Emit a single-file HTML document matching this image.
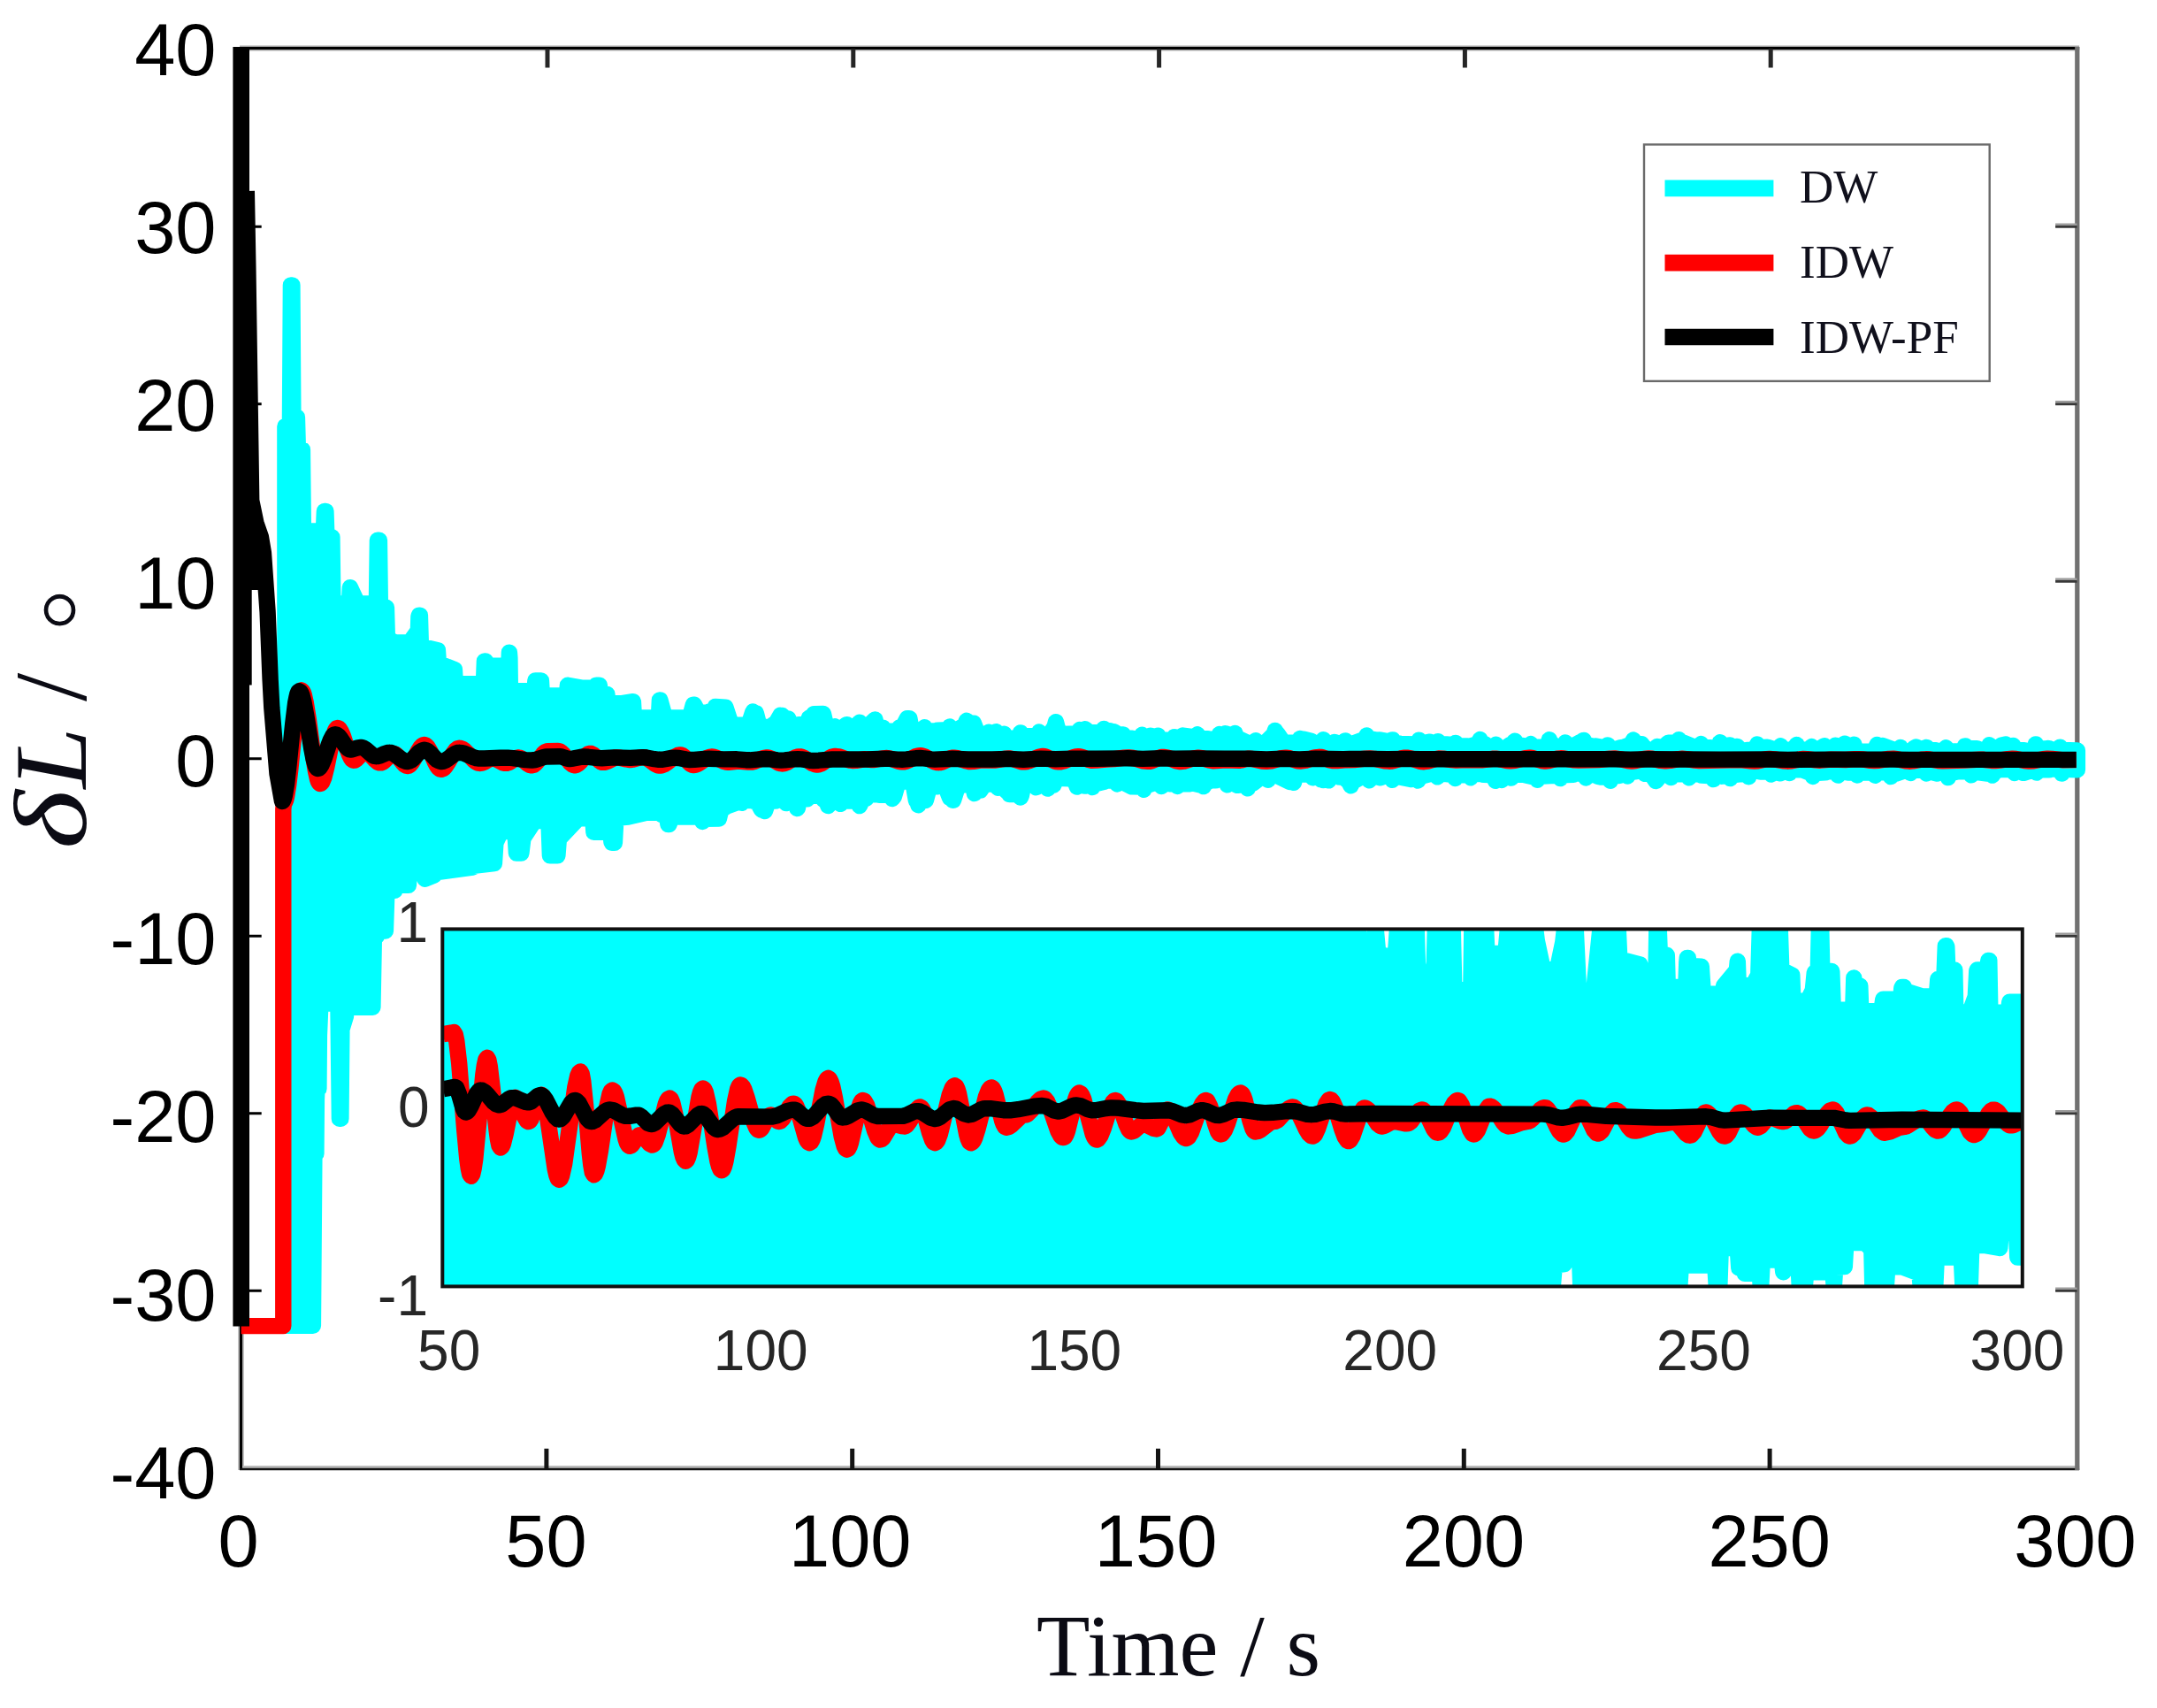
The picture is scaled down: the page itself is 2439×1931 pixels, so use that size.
<!DOCTYPE html>
<html lang="en"><head><meta charset="utf-8"><title>Latitude error comparison</title>
<style>html,body{margin:0;padding:0;background:#fff;overflow:hidden}svg{display:block}.tk{font-family:"Liberation Sans",Arial,sans-serif;font-size:83px;fill:#000}.ti{font-family:"Liberation Sans",Arial,sans-serif;font-size:64px;fill:#262626}.sf{font-family:"Liberation Serif","Times New Roman",serif}</style></head><body>
<svg width="2439" height="1931" viewBox="0 0 2439 1931">
<rect width="2439" height="1931" fill="#fff"/>
<defs><clipPath id="ci"><rect x="500.3" y="1050.4" width="1786.5" height="404"/></clipPath></defs>
<g fill="none">
<path d="M272.5 53V1662" stroke="#a8a8a8" stroke-width="6.4"/>
<path d="M271 54.5H2351.1" stroke="#a8a8a8" stroke-width="6.2"/>
<path d="M271 1658.5H2351.1" stroke="#bbb" stroke-width="3"/>
<path d="M272.5 53V1662" stroke="#000" stroke-width="3"/>
<path d="M271 54.5H2351.1" stroke="#000" stroke-width="3"/>
<path d="M271 1661H2351.1" stroke="#111" stroke-width="2.3"/>
<path d="M2348.8 53V1662.1" stroke="#717171" stroke-width="5.3"/>
<path d="M617.9 1660.6V1637.8M963.7 1660.6V1637.8M1309.5 1660.6V1637.8M1655.3 1660.6V1637.8M2001.1 1660.6V1637.8" stroke="#141414" stroke-width="5"/>
<path d="M619 55V76.5M964.8 55V76.5M1310.6 55V76.5M1656.4 55V76.5M2002.2 55V76.5" stroke="#262626" stroke-width="5"/>
<path d="M272.7 1459.3H295.7M272.7 1258.8H295.7M272.7 1058.3H295.7M272.7 857.8H295.7M272.7 657.3H295.7M272.7 456.8H295.7M272.7 256.3H295.7" stroke="#000" stroke-width="2.9"/>
<path d="M2348.5 1456.8H2324.1M2348.5 1256.3H2324.1M2348.5 1055.8H2324.1M2348.5 855.3H2324.1M2348.5 654.8H2324.1M2348.5 454.3H2324.1M2348.5 253.8H2324.1" stroke="#9c9c9c" stroke-width="2.8"/>
<path d="M2348.5 1459.4H2324.1M2348.5 1258.9H2324.1M2348.5 1058.4H2324.1M2348.5 857.9H2324.1M2348.5 657.4H2324.1M2348.5 456.9H2324.1M2348.5 256.4H2324.1" stroke="#383838" stroke-width="2.6"/>
</g>
<g fill="none" stroke-linejoin="round" stroke-linecap="butt" stroke-width="18.4">
<polygon points="322.4,481.9 327.9,481.9 328.9,322.4 330.4,322.4 331.4,471.7 335.9,471.7 336.9,508.3 341.9,508.3 342.9,600.5 365.9,600.5 366.9,577.9 368.4,577.9 369.4,607.2 375.4,607.2 376.4,682.4 394.9,682.4 395.9,664.1 404.4,682.4 425.9,682.4 426.9,610.7 428.9,610.7 429.9,686.8 436.9,686.8 437.9,722 446.9,726.4 463.4,726.1 472.4,713.8 472.9,712.3 473.4,697.3 473.9,695.6 474.9,695.6 475.9,730.8 494.9,735.1 495.9,749.9 513.9,757.1 514.9,773.2 546.9,773.2 547.9,747.4 548.9,747.4 549.9,752.7 574.9,752.7 575.4,750.9 575.9,737.6 576.4,744 576.9,781.1 604.4,781.1 605.4,769.4 611.9,769.4 612.9,786.4 640.9,786.4 641.9,774.7 657.4,777.6 673.4,777.6 674.4,774.7 677.4,774.7 677.9,774.8 678.4,783.6 678.9,784.9 686.4,784.9 687.4,795.1 703.4,795.1 715.9,793.2 716.9,811.5 744.9,811.5 745.9,791.4 746.4,791.4 751.9,811.5 779.9,811.5 783.9,796.6 784.9,796.7 789.4,805.1 790.9,805.7 800.4,805.8 801.9,804.5 803.9,805.9 805.9,805.9 808.9,799 820.4,799.7 826.9,819.4 828.4,817.8 830.4,819.4 846.4,819.9 851.4,804.5 852.4,806.4 854.9,806.5 858.9,822.1 872.4,821.8 874.4,819.1 874.9,820.1 875.9,820 882.4,808.8 884.4,809 889.9,814.5 891.4,812.4 892.9,817.4 895.4,820 902.9,820.1 903.4,819.2 911.4,819.2 913.4,816.5 914.9,811.6 916.4,812.4 920.4,807.1 930.9,806.9 934.9,824.1 942.4,824.1 943.9,821.3 945.9,824.1 950.9,824.1 957.4,819.2 957.9,819.2 958.4,821.1 970.4,821.1 971.9,816.7 973.4,820.5 974.4,821 983.9,818.6 989.4,813.4 992.9,826.4 996.9,826.4 998.4,822.8 1000.4,826.4 1015.4,826.9 1016.9,822.6 1018.4,826.6 1025.9,812.1 1027.9,812.1 1028.4,812.3 1030.9,826.1 1031.4,826.4 1043.9,826.4 1045.4,822.2 1047.4,826.4 1059.4,826.4 1059.9,825.6 1071.9,825.1 1073.9,821.5 1075.4,825.1 1082.4,825.1 1091.4,819.6 1092.9,814.8 1094.4,817.9 1100.9,817.6 1105.9,830.6 1116.4,830.6 1117.9,827.7 1119.9,830.6 1121.9,830.6 1126.4,827.2 1126.9,828.3 1127.4,828.1 1133.9,833.4 1135.4,829.7 1136.9,834.6 1151.4,834.7 1152.4,834.2 1153.9,828.4 1155.4,832.7 1156.4,832.3 1173.4,832.1 1174.9,827.6 1176.9,832.1 1185.4,832.4 1192.4,822 1193.9,816.2 1195.9,823.7 1199.4,829.9 1219.4,829.4 1220.9,824.9 1222.4,829.3 1226.9,824.1 1231.9,828.1 1246.9,828.2 1248.4,823.9 1250.4,827.6 1254.9,826.2 1258.9,828.3 1259.4,827.3 1268.4,832.6 1269.9,830.4 1271.9,834.7 1280.4,834.7 1280.9,836.1 1289.4,835.7 1291.4,830.8 1292.9,834.5 1299.4,832.2 1300.4,832.6 1300.9,831.7 1307.9,834.3 1309.4,831.7 1311.4,835.6 1313.4,836.4 1325.9,836.7 1327.9,833.1 1329.4,836.7 1329.9,836.7 1337.4,831.5 1352.4,833.7 1353.9,830.3 1355.9,834.2 1360.9,835.1 1365.9,835.1 1366.4,835.7 1376.9,835.7 1378.9,830.1 1380.4,833 1385.4,829.2 1394.9,832.5 1396.4,829 1398.4,834.2 1413.9,841.3 1417.9,841.3 1419.9,837.3 1421.4,841.3 1429.9,841.3 1430.9,839.7 1440.4,830.2 1441.9,825.9 1443.4,829.3 1444.9,830.1 1451.4,839.7 1467.9,839.4 1469.9,835 1471.4,837.3 1474.9,835.8 1482.9,837.9 1483.4,839.6 1488.9,841.1 1494.9,840.9 1496.4,836.2 1497.9,841.1 1505.4,841 1508.4,840 1508.9,838.9 1513.9,840.6 1519.4,840.6 1520.9,837.5 1521.4,837.4 1522.9,840.6 1529.9,840.6 1543.4,835.6 1545.4,831.5 1546.9,835.4 1550.4,835.4 1559.9,837.3 1560.4,836.5 1572.9,838.9 1574.4,836.5 1574.9,836.5 1576.4,839.6 1583.4,840.9 1599.9,841.4 1602.9,840.6 1604.4,836.7 1606.4,839.6 1614.9,839.2 1615.4,838.7 1616.9,838.7 1622.4,841.4 1624.4,841.4 1625.9,838.2 1627.4,841.4 1635.9,841.4 1636.4,842 1639.9,841.8 1644.4,843.4 1645.9,839.9 1647.9,843.5 1659.4,843.5 1659.9,844.4 1671.9,840.7 1673.4,836.1 1674.9,840.8 1678.4,840.9 1686.4,846.4 1689.4,846.4 1691.4,841.7 1692.9,846.4 1701.9,846.4 1702.4,845.5 1707.9,841.7 1711.4,842 1712.9,837.7 1714.4,842.3 1714.9,842.5 1721.4,843.9 1721.9,843.1 1728.9,844.6 1729.4,844.5 1730.9,841.1 1732.4,844.6 1741.4,844.6 1741.9,845.6 1744.4,845.6 1750.4,841.6 1751.9,836.3 1753.9,841.4 1761.4,844.1 1768.4,844.1 1769.9,839.6 1771.4,844.1 1777.9,844 1786.4,839.3 1788.9,840.4 1790.4,837 1790.9,836.9 1792.4,842 1803.9,844.1 1804.4,843.5 1811.4,844.8 1812.4,846.6 1816.4,846.6 1817.9,842.4 1819.4,846.4 1828.4,846.6 1831.9,845.3 1832.4,846 1844.9,841.3 1846.9,836.6 1848.4,841.3 1856.4,841.3 1859.9,846.1 1860.4,845.5 1861.9,847.6 1872.4,847.6 1873.9,843.9 1875.4,847.3 1877.9,847.6 1886.4,839.8 1896.9,839.6 1898.4,836.2 1899.9,839.8 1903.9,839.8 1917.4,845.2 1921.9,845.1 1923.4,841.1 1924.9,845.3 1933.9,845.3 1934.4,846.2 1943.4,844.4 1944.9,839.3 1946.9,843.7 1956.4,842.5 1962.4,846.7 1964.4,843.9 1965.9,848.6 1975.4,848.6 1975.9,848 1981.4,847.9 1985.4,846.3 1986.9,841.5 1988.4,845.1 1998.4,844.7 2006.9,847.5 2011.9,847.5 2013.4,843.3 2014.9,847.4 2015.4,847.5 2022.9,847.8 2029.4,846.5 2031.4,842 2032.9,845.8 2034.4,845.7 2039.4,848.1 2046.9,847.8 2048.4,844.1 2050.4,847.8 2055.9,847.8 2062.9,843.2 2066.4,846.7 2073.9,846.7 2075.4,842.7 2077.4,846.7 2082.4,846.7 2085.9,840.7 2094.9,846.2 2096.4,841.8 2097.9,847.7 2101.4,849.7 2117.4,849.6 2120.9,847.5 2122.4,841.9 2124.4,845.4 2128.9,843 2145.9,849.4 2147.4,849.4 2148.9,845 2150.9,849.4 2161.9,849.4 2163.4,848.3 2163.9,846.2 2166.4,844.5 2173.9,847.7 2176.4,847.8 2178.4,844.9 2179.9,847.9 2188.9,848.2 2189.4,849.2 2198.9,849.5 2200.4,845.3 2201.9,849.5 2202.4,849.6 2217.4,849.1 2220.4,847.6 2221.9,843.5 2222.4,843.5 2223.9,846.3 2235.4,846.3 2235.9,847.7 2244.9,847.7 2247.9,847.1 2249.4,842.2 2251.4,846.4 2262.9,843.9 2263.4,842.4 2267.9,841.5 2274.9,845.5 2276.4,842.9 2277.9,847 2279.4,848.1 2288.9,848.1 2289.4,849.6 2295.4,849.6 2300.4,846.6 2301.9,841.4 2303.9,846.4 2312.4,846.4 2315.4,847.4 2315.9,845.9 2320.9,847.9 2327.9,848 2329.4,844.7 2331.4,848 2348.9,848.4 2348.9,870.3 2333.4,869.7 2332.9,870 2331.4,874.6 2329.9,869.5 2317.4,868.9 2316.9,870.3 2304.4,870.2 2302.9,873.6 2300.9,870.2 2298.4,870.4 2287.9,873.9 2279.4,870.5 2277.9,874 2276.4,870.1 2262.4,869.8 2254.9,872.3 2252.9,876.6 2251.4,873.4 2247.4,874.6 2230.4,872.4 2228.9,876.3 2226.9,872.4 2215.9,872.4 2215.4,871.9 2204.4,874.3 2202.9,879.1 2200.9,874.4 2190.9,872.9 2190.4,874.5 2179.9,871.8 2178.4,874.5 2176.4,870.9 2169.4,870.8 2168.9,869.4 2161.9,869.5 2160.4,873.9 2158.9,869.6 2143.4,874.8 2139.4,874.4 2137.9,878.1 2136.4,873.7 2133.9,873.3 2122.4,873.4 2120.4,876.7 2118.9,873.3 2101.4,873.5 2099.9,876.4 2097.9,873.5 2089.4,873.5 2088.9,871.7 2080.4,871.9 2078.4,876.6 2076.9,872 2064.4,872.4 2063.9,873.4 2051.9,874.1 2049.9,877.9 2048.4,874.4 2036.9,869.9 2036.4,870.4 2024.9,870.4 2023.4,874 2021.9,870.6 2021.4,870.4 2020.4,870.4 2012.9,874.4 2004.9,872.5 2002.9,875.5 2001.4,872.5 1990.4,872.5 1989.9,870.9 1978.9,873.1 1977.4,878.2 1975.9,873.5 1975.4,873.4 1967.4,874.1 1966.9,875.4 1958.4,876.3 1956.4,880.1 1954.9,876.7 1946.9,877.7 1946.4,877.3 1938.9,877.3 1937.4,881.1 1935.4,877.2 1923.9,876.6 1923.4,875.8 1911.9,874.7 1911.4,874.9 1909.9,879.3 1908.4,874.6 1890.9,875.3 1889.4,879 1887.4,875.3 1878.9,875.3 1872.4,883.1 1863.9,870.6 1861.4,870.6 1859.9,874.8 1857.9,870.6 1850.4,870.6 1849.9,872.4 1847.9,872.4 1841.9,874 1840.4,877.5 1838.9,874.8 1830.9,877 1830.4,875.8 1822.9,877.8 1822.4,878 1820.9,882.7 1819.4,878.6 1809.9,878.5 1807.4,878 1806.9,877.2 1794.9,874.6 1793.4,879.4 1791.9,874.7 1791.4,874.5 1779.4,874.5 1778.9,875.8 1766.4,876.4 1764.4,880.1 1762.9,876.5 1739.9,877.9 1738.4,881.7 1736.4,878.2 1734.4,878.4 1722.4,875.8 1710.4,875.9 1708.9,879.6 1707.4,875.8 1705.9,875.8 1697.9,881.9 1692.4,879.7 1690.9,882.8 1689.4,878.5 1683.4,876 1677.4,875.9 1676.9,875 1664.9,875.1 1662.9,879.2 1661.4,875.3 1654.4,875.6 1653.9,876.4 1646.9,876.3 1645.4,880 1643.9,876 1635.4,875.1 1626.9,875.1 1625.4,878.3 1623.4,875.1 1616.9,875.1 1605.4,878.1 1603.4,882.5 1601.9,879.2 1595.4,881.1 1580.4,877.9 1575.9,877.9 1574.4,881.8 1572.4,877.9 1564.4,877.9 1560.9,879.3 1555.4,877.9 1549.9,877.9 1548.4,882.2 1546.9,878.2 1538.9,878 1537.4,879.5 1528.9,884.1 1527.4,888.3 1525.4,884.1 1518.9,878.6 1514.9,878.6 1514.4,877.1 1503.9,877.1 1502.4,882.4 1500.9,879.1 1496.4,882 1493.9,880.2 1493.4,881.1 1486.4,876.1 1484.4,879.2 1482.9,875.6 1473.9,875.6 1473.4,874.8 1469.4,874.8 1464.4,879.2 1462.9,884.9 1461.4,881.5 1458.4,883.9 1443.9,877 1435.9,877 1433.9,881.8 1432.4,877 1427.9,877 1416.9,885.4 1412.4,886.1 1410.9,891.3 1409.4,886.7 1399.4,887.9 1389.4,882.9 1387.9,887.2 1386.4,881.1 1385.9,880.9 1374.9,880.6 1374.4,882.3 1369.4,882.3 1362.9,884.8 1360.9,889.1 1359.4,886.1 1356.4,887.3 1348.9,885.6 1346.4,885.6 1345.9,886.2 1332.9,886.2 1331.4,889 1329.4,886.2 1322.4,886.2 1321.9,885.2 1315.4,885.2 1313.4,889 1311.9,885.2 1305.4,885.2 1294.9,888.4 1293.4,892.7 1291.9,889.6 1279.9,889.4 1265.9,882.5 1264.9,882.7 1263.4,886.4 1261.9,882.5 1249.9,882.5 1249.4,883.5 1236.9,886.7 1235.4,890 1233.9,887.3 1226.9,888.6 1226.4,887.6 1220.4,887.6 1219.4,887 1217.9,889.6 1215.9,884.4 1210.4,880.2 1194.4,879.8 1192.9,882 1191.4,887.6 1189.9,885.3 1184.9,891.6 1184.4,891.3 1183.4,886.3 1182.9,885.9 1181.9,885.9 1181.4,886.6 1173.4,886.6 1171.4,890.2 1169.9,886.6 1157.9,887.1 1157.4,887.4 1154.9,899.2 1153.9,901.5 1152.4,898.3 1151.9,898.1 1141.4,898 1140.9,896.8 1129.9,887 1128.4,890.7 1126.9,886.5 1113.4,886.5 1108.4,893.6 1103.4,893.7 1101.9,897 1099.9,886.9 1089.9,886.9 1089.4,887.6 1083.4,887.8 1078.4,903.5 1077.9,904.7 1077.4,904.7 1075.9,901.7 1073.9,901.7 1067.9,886.2 1061.9,886.2 1059.9,889.4 1058.4,886.2 1051.9,886.2 1046.9,904.6 1046.4,905 1039.9,905 1038.4,910.2 1036.9,905 1035.9,905 1031.9,882.2 1023.9,882.2 1023.4,883.5 1015.9,883.5 1010.9,900.5 1008.9,903 1007.4,899.1 1006.9,898.9 994.4,898.9 993.9,898.3 980.9,898.3 979.4,902.8 977.9,898.4 971.9,911.1 969.4,904.6 964.9,904.4 964.4,905.6 951.9,905.6 950.4,908.8 948.4,905.6 940.4,905.5 936.4,911.1 932.9,901.2 932.4,901.3 931.4,904 929.9,899.7 922.4,899.7 921.9,898.8 914.4,898.8 912.9,903.3 912.4,903.2 910.9,898.8 904.4,898.9 901.9,913.6 901.4,914 897.9,904.2 890.9,904.3 888.9,908.1 887.4,904.4 877.4,904.5 876.9,905.6 869.9,905.6 866.9,911.3 864.9,917.1 863.9,915.7 861.4,915.5 860.9,915.1 855.9,905.8 852.4,905.8 851.9,905 840.9,905.1 838.9,907.8 837.4,905.9 820.9,911.7 818.9,913.6 817.4,912.8 815.9,913.2 812.9,925.6 797.4,925.8 794.4,929 791.9,923.3 759.4,923.5 756.9,931 756.4,932.1 755.4,932.1 753.9,921 748.4,921 746.9,918.8 730.9,918.8 710.4,923.5 696.4,924.8 694.9,952.8 691.9,952.8 691.4,951.6 690.4,940.8 671.4,940.8 670.4,926.4 669.9,925.2 653.9,925.2 631.9,948.3 630.4,967.4 621.9,967.4 620.4,928 604.4,928 591.4,947.8 589.4,964.5 583.9,964.5 582.4,940 566.4,940 560.4,952.9 558.9,976.2 535.4,978.8 534.4,980.6 491.9,986.4 490.9,989.4 480.4,993.8 478.9,984.6 462.9,984.6 461.9,1000.8 447.9,1000.8 446.4,1006.8 437.4,1006.8 435.9,1052.5 426.9,1052.5 425.9,1058.4 422.9,1058.4 421.4,1138.8 391.9,1138.8 390.9,1149.1 386.4,1163.8 385.4,1264.8 383.9,1264.8 382.4,1134.5 362.4,1134.5 360.9,1170 360.4,1230.8 358.4,1230.8 357.9,1243.1 357.4,1304.3 355.4,1304.3 353.9,1498.8 322.4,1498.8" fill="#0ff" stroke="#0ff"/>
<polyline points="272.7,1499.1 320.3,1499.1 320.3,915 321,908 322,907.1 323.1,904.5 324.1,900.3 326.2,887.4 328.3,869.9 333.5,818.6 336.6,793.9 337.7,788.2 338.7,784 339.8,781.4 340.8,780.5 341.8,781.1 342.8,782.8 343.8,785.7 345.8,794.6 348.9,814 354.9,859.6 357,871.9 359,880.8 360,883.7 361,885.4 362,886 363,885.6 364.1,884.3 366.2,879.4 369.3,867.2 374.5,841.8 376.6,833.2 378.7,826.8 379.7,824.7 380.8,823.4 381.8,823 382.8,823.3 383.8,824.1 385.8,827.3 387.9,832.2 392.9,847.6 394.9,853.1 397,857.2 398,858.6 399,859.4 400,859.7 401,859.6 403,858.5 410,851.2 412,850.1 413,850 415,850.4 417,851.6 419,853.5 424,859 427,861.6 429,862.4 431,862.4 432,862 434,860.8 441,853.7 443,852.5 445,852 447.1,852.6 449.2,854.3 455.5,862.5 457.6,864.7 459.7,865.8 460.8,866 461.8,865.8 463.8,864.6 465.8,862.1 467.8,858.8 472.8,849.2 475.8,844.5 477.8,842.7 478.8,842.2 479.8,842 480.8,842.2 481.8,842.8 483.8,844.9 486.8,850.3 491.8,861.5 493.8,865.3 495.8,868.1 496.8,869 497.8,869.6 498.8,869.8 500.9,869.2 501.9,868.5 503.9,866.3 507,861.5 512.1,852.4 515.2,848.1 517.2,846.4 519.3,845.8 520.3,845.9 522.4,846.5 525.4,848.5 528.5,851.5 535.6,859.4 538.6,861.7 540.7,862.7 542.7,863 544.7,862.7 547.8,861.4 552.9,858.5 555,857.8 557,857.5 559,857.7 561,858.4 569,862.5 571,862.9 573,862.9 576,861.8 583,857.2 585,856.6 586,856.5 587,856.6 589.1,857.3 591.1,858.7 597.2,863.9 599.3,865 601.3,865.4 603.4,864.9 605.5,863.3 607.6,860.9 614,852.5 616.1,850.5 617.2,849.8 619.3,849.2 630.9,849 633,849.5 635.1,850.9 637.3,853.1 644.6,862.3 646.7,864.1 647.8,864.7 649.9,865.2 651.9,864.7 654,863.4 656.1,861.5 661.2,855.6 663.3,853.6 665.3,852.3 667.4,851.9 668.4,852 670.5,853 672.6,854.7 677.8,860.1 679.9,861.5 680.9,861.9 683,861.9 685,861.5 687,860.7 694,857.2 697,856.4 701.1,856.7 708.4,858.5 712.6,859.1 715.7,858.7 723,856.6 727.2,856.1 729.3,856.4 731.4,857.2 733.5,858.4 740.9,863.9 744,865.3 746.1,865.6 748.2,865.3 751.2,864.2 754.2,862.3 760.3,857.5 763.4,855.4 766.4,853.9 769.5,853.4 771.5,854 773.6,855.6 778.8,861.8 780.9,863.8 783,864.9 784,865 786.1,864.8 788.1,864.1 791.2,862.4 799.4,856.9 802.4,855.8 804.5,855.5 806.6,855.7 809.7,856.6 819.2,861.1 821.3,861.6 823.4,861.8 835.1,860.5 846.2,861.6 850.3,861.5 853.5,860.7 863,857 866.1,856.5 868.2,856.5 870.3,857 872.3,857.8 880.5,862.6 882.6,863.2 884.7,863.5 886.8,863.2 889.9,862 897.3,857.4 899.4,856.3 902.6,855.4 904.6,855.4 906.7,855.8 909.7,857.2 918.9,863.2 922,864.3 924,864.5 926.1,864.3 929.1,863.1 938.3,856.9 941.4,855.4 943.4,855 945.5,855 948.5,855.4 951.6,856.3 958.7,859 961.8,859.7 963.8,860 967.9,859.8 977,858.3 980.2,858.4 985.6,859 988.7,859 998.8,857.3 1002.8,857 1006.9,857.6 1016.2,860.9 1020.3,861.4 1022.3,861.3 1024.4,860.8 1027.4,859.5 1035.6,855.2 1038.6,854.4 1040.7,854.2 1042.7,854.4 1045.8,855.4 1054,860 1057,861.4 1059.1,862 1061.1,862.2 1063.2,862 1065.2,861.5 1074.5,857.4 1076.5,856.8 1078.6,856.7 1082.8,857.2 1092.3,860.3 1096.5,861.1 1100.7,860.9 1108,859.7 1111.1,859.4 1125.9,859.5 1137.2,857.7 1141.3,857.4 1145.3,858 1154.3,861.1 1156.3,861.4 1158.4,861.4 1160.5,861.1 1163.6,860.2 1174,855.9 1177.1,855.2 1179.2,855 1181.3,855.2 1183.3,855.9 1192.6,860.6 1194.7,861.2 1196.7,861.4 1199.8,861.2 1202.9,860.4 1214.2,856 1217.3,855.4 1219.3,855.2 1221.3,855.4 1223.3,855.9 1230.3,858.7 1234.4,859.7 1239.4,859.6 1250.7,858.5 1259.9,858.1 1271.1,856.7 1276.2,856.4 1281.4,857 1292.8,860.3 1298.1,860.8 1300.1,860.7 1302.2,860.2 1309.4,857.2 1312.5,856.2 1314.5,855.9 1316.6,855.9 1320.8,856.8 1330.3,860.5 1334.5,861.1 1338.6,860.7 1349.8,857.3 1354.9,856.7 1359,857.1 1367.3,859.5 1371.4,860.2 1375.5,860.1 1385.5,859.4 1401.2,859.8 1403.3,859.5 1408.6,858.1 1411.8,857.7 1415.9,858 1427.1,860.5 1432.2,860.9 1437.4,860.4 1448.9,857.2 1454.1,856.7 1458.1,857.2 1467.1,860.2 1471.2,860.5 1476.4,859.6 1486.8,856.4 1492,855.8 1494,856 1496,856.5 1503,859.2 1507,860.1 1512.1,860.1 1523.3,859.2 1531.5,859 1543.8,857.7 1548.9,857.4 1554.1,857.8 1565.5,860.3 1570.7,860.7 1572.8,860.6 1576,860 1585.5,857.1 1588.6,856.6 1590.7,856.6 1595.8,857.5 1605,860.6 1608.1,861.1 1610.1,861.2 1614.2,860.7 1622.5,858.2 1626.6,857.5 1631.8,857.7 1641.3,859.2 1646.6,859.6 1658.7,859.1 1675.3,859.3 1687.3,857.8 1691.3,857.7 1695.5,858.2 1703.7,860 1707.8,860.3 1713,859.8 1724.5,857.1 1729.7,856.7 1733.8,857.2 1743.1,860 1747.2,860.5 1751.3,860.1 1760.6,857.7 1764.7,857.3 1768.8,857.5 1780,859.3 1785.1,859.6 1807.5,859 1820.7,857.6 1825.8,857.5 1830.9,858.1 1840.1,860 1845.2,860.5 1849.4,860.1 1858.9,858 1864.2,857.5 1868.4,857.8 1877.9,859.9 1883.1,860.4 1888.4,859.9 1897.9,858.1 1902.1,857.8 1907.2,858.1 1916.4,859.6 1921.5,860.1 1966.2,859.1 1970.4,859.3 1979.6,860.4 1983.7,860.6 1987.9,860.3 1997.1,858.3 2001.2,858 2006.3,858.4 2017.6,860.4 2021.6,860.7 2025.8,860.3 2035,858.4 2039.1,858 2043.4,858.2 2052.8,859.4 2058.1,859.7 2070.2,858.6 2086.9,859 2097.3,858.2 2101.4,858.1 2105.7,858.4 2115.1,859.9 2119.3,860.1 2124.5,859.8 2135.7,857.9 2140.8,857.7 2145,858.2 2154.5,860.3 2158.7,860.7 2162.9,860.4 2172.4,858.7 2177.7,858.3 2181.9,858.5 2191.4,860 2196.6,860.3 2221.2,859.6 2238.9,858.6 2242.9,858.8 2252,860 2256,860.1 2261.1,859.6 2270.3,858.1 2275.4,857.7 2279.6,858 2289.1,860 2294.3,860.5 2299.5,860.2 2310,858.2 2315.2,857.7 2320.4,857.9 2333.1,859.4 2347.7,859.1" stroke="#f00"/>
<path d="M272.7 53V1499.5" stroke="#000" stroke-width="18.6"/>
<path d="M276 216V774.5" stroke="#000" stroke-width="17.4"/>
<rect x="279" y="540" width="13.4" height="127" fill="#000"/>
<polyline points="278.8,216 280.3,300 284.2,566 289.6,591.8 294.9,607 297.9,625 302.6,692 305.6,768 307.3,800 313.5,875 319,906 320,905.2 321,902.6 322,898.5 324.1,885.9 326.1,868.7 331.2,818.7 334.2,794.5 335.3,788.9 336.3,784.8 337.3,782.2 338.3,781.4 339.3,781.9 340.3,783.3 341.3,785.7 343.3,793.1 346.3,809.2 352.4,847.1 354.4,857.3 356.4,864.7 357.4,867.1 358.4,868.5 359.4,869 360.4,868.7 361.5,867.9 363.5,864.9 366.7,857.4 371.8,841.8 373.9,836.5 376,832.5 377,831.3 378.1,830.5 379.1,830.2 381.1,830.8 383.2,832.5 385.2,835 391.3,844.1 393.3,846.2 395.4,847.4 396.4,847.5 398.5,847.3 404.9,845.3 407,845 409.1,845 410.2,845.2 413.2,846.9 419.4,852.3 421.5,853.9 423.5,854.9 425.6,855.2 427.7,855 429.8,854.4 435.1,852 438.2,851 440.3,850.8 442.4,851 444.4,851.8 446.4,852.9 455.7,859.5 458.8,860.8 460.8,861 462.8,860.6 464.8,859.6 467.8,857.1 472.8,851.7 474.8,849.9 477.8,848.2 479.8,847.8 481.8,848.2 483.8,849.2 486.8,851.7 491.8,857.1 493.8,858.9 496.8,860.6 498.8,861 500.9,860.8 503.9,859.5 507,857.5 512.1,853.6 515.2,851.8 517.2,851 519.3,850.8 522.4,851.1 525.4,851.9 535.6,856.2 538.6,857.1 540.7,857.5 547.8,857.5 565.9,856.7 574,856.6 580.1,857.1 594.2,859.1 601.3,859.5 605.5,859 614,856.2 617.2,855.5 632.4,855.2 635.6,855.7 641.9,857.8 644.1,858 648.1,857.6 656.1,855.9 660.1,855.5 665.2,855.8 676.4,857 680.5,857.2 694.1,856.4 712.6,856.9 726.7,856.1 730.8,856.5 740,858.2 745.1,858.8 749.2,858.7 759.5,856.9 763.6,856.7 767.7,857 776,858.6 780.1,859 785.2,858.9 796.4,857.9 801.5,857.7 818.4,858.4 833.2,858.3 843.6,859.2 847.8,859.3 861.5,858.2 865.7,858 869.8,858.2 879.1,859.4 883.2,859.6 887.4,859.4 896.9,858.4 902.2,858.2 906.3,858.4 915.5,859.7 919.7,860 925.7,859.7 941,858.5 980.1,858.5 1000.7,857.7 1005.8,857.8 1014.8,858.6 1019.9,858.7 1025.1,858.4 1035.5,857.3 1040.7,857 1044.7,857.3 1052.7,858.4 1056.7,858.6 1077.1,857.7 1094.6,858.5 1121.9,858.5 1139.4,857.9 1157.3,858.8 1176.7,857.6 1193.8,858.3 1212.4,857.6 1239.9,857.8 1274.7,857.3 1292.2,857.9 1312.6,857.2 1329.1,857.8 1350.6,857.5 1384.4,857.8 1412.8,857.8 1432.2,858.4 1449.7,857.8 1469.3,858.4 1487.6,857.7 1518.7,858.1 1549.9,857.9 1569.3,858.3 1589.7,857.9 1607.2,858.2 1824.4,858.2 1843.7,858.6 1864.2,858.2 1945.5,858.6 2001.2,858.5 2021.6,858.9 2071.2,858.6 2140.8,858.6 2158.7,858.9 2347.7,858.9" stroke="#000"/>
</g>
<rect x="500.3" y="1050.4" width="1786.5" height="404" fill="#fff"/>
<g clip-path="url(#ci)" fill="none" stroke-linejoin="round" stroke-width="18.4">
<polygon points="496.3,1051.3 1535.8,1051.3 1537.3,1068.1 1553.3,1068.1 1554.8,1051.3 1555.8,1051.3 1557.8,1072.8 1561.8,1080.8 1577.8,1080.8 1579.8,1052.9 1580.3,1051.3 1601.8,1051.3 1603.3,1102.7 1619.3,1102.7 1621.8,1089 1622.8,1051.3 1642.8,1051.3 1644.3,1116.4 1644.8,1119.1 1663.3,1119.1 1664.3,1051.3 1679.8,1051.3 1680.3,1053.1 1681.3,1075.6 1681.8,1078 1697.8,1078 1702.8,1072.7 1704.8,1051.3 1736.3,1051.3 1737.8,1063.3 1744.8,1096.1 1760.8,1096.1 1767.3,1065.1 1768.8,1052 1769.3,1051.3 1781.8,1051.3 1785.3,1125.3 1801.3,1125.3 1801.8,1124.3 1809.3,1051.3 1829.8,1051.3 1831.3,1084.4 1854.3,1090.3 1854.8,1091.8 1855.8,1109.8 1856.3,1111.3 1872.3,1111.3 1873.3,1051.3 1875.8,1051.3 1876.8,1078.4 1884.8,1079.9 1885.8,1116 1905.8,1116 1906.3,1115.6 1907.3,1088.1 1907.8,1082.9 1908.8,1082.9 1909.8,1091.9 1923.8,1092.8 1925.8,1123.6 1947.3,1123.6 1949.3,1114.3 1963.8,1096.9 1964.8,1086.7 1965.8,1114.2 1981.8,1114.2 1987.8,1103.3 1988.3,1100.7 1989.8,1051.3 1992.3,1051.3 1992.8,1056.7 1993.3,1100.4 2009.3,1100.4 2010.3,1051.3 2012.8,1051.3 2014.3,1096.5 2026.3,1102.4 2027.3,1129.5 2027.8,1131.8 2043.8,1131.8 2049.8,1119.5 2051.8,1099.5 2055.3,1099.5 2055.8,1096.7 2056.8,1051.3 2059.3,1051.3 2060.3,1098 2071.3,1098 2072.8,1141.7 2094.8,1141.7 2095.3,1139.1 2096.3,1105.5 2096.8,1114.5 2103.3,1114.5 2104.3,1143.2 2127.3,1143.2 2129.3,1129.6 2149.3,1129.6 2150.3,1117.1 2150.8,1116 2152.8,1116 2154.8,1120.6 2173.8,1126.5 2189.8,1126.5 2191.3,1107 2198.3,1107 2199.8,1069.3 2200.8,1069.3 2201.3,1070.3 2202.3,1096.5 2210.3,1096.5 2211.3,1144.4 2227.3,1144.4 2233.8,1126.7 2235.3,1097.4 2235.8,1096.5 2247.3,1096.5 2248.3,1086 2249.3,1085.9 2250.3,1139.2 2250.8,1144.7 2270.8,1144.7 2272.3,1132.6 2292.8,1132.6 2292.8,1421.6 2281.3,1421.6 2279.8,1389.9 2262.8,1389.9 2261.3,1411 2245.3,1408.1 2229.3,1408.1 2227.8,1454.1 2227.3,1454.7 2219.8,1454.7 2219.3,1452.7 2217.8,1421.6 2190.3,1421.6 2189.8,1422 2188.3,1454.7 2171.8,1454.7 2170.3,1439.6 2150.3,1432.2 2134.3,1432.2 2132.8,1454.7 2117.3,1454.7 2116.3,1412.5 2108.8,1405 2087.8,1405 2087.3,1406.3 2085.8,1432.1 2075.3,1432.2 2073.8,1454.7 2072.3,1438.2 2042.3,1438.2 2040.8,1454.7 2034.8,1454.7 2033.3,1426.8 2017.3,1426.8 2016.8,1438.2 2016.3,1438.2 2014.8,1425 2014.3,1424.6 1992.8,1424.6 1991.3,1453 1990.8,1454.7 1989.8,1440.4 1989.3,1439.7 1972.8,1439.7 1971.3,1433.6 1966.3,1433.6 1964.8,1412.1 1964.3,1411 1945.8,1411 1944.3,1454.7 1940.8,1454.7 1939.3,1430.6 1900.8,1430.6 1899.3,1454.7 1787.3,1454.7 1785.8,1414.4 1769.8,1414.4 1768.8,1429.1 1757.8,1430.6 1755.8,1454.7 496.3,1454.7" fill="#0ff" stroke="#0ff"/>
<polyline points="501.1,1169.2 513.1,1167.1 514.7,1169.5 516.2,1176.4 519.2,1202.3 525.2,1277.3 528.2,1309.4 529.7,1320.5 531.2,1327.5 532.7,1329.8 534.2,1327.5 535.7,1320.9 537.3,1310.2 546.3,1215.4 547.8,1204.7 549.3,1198 550.8,1195.7 552.3,1198.2 553.8,1205.5 556.8,1230.9 561.4,1276.6 562.9,1287.9 564.4,1295.1 565.9,1297.6 567.4,1296.4 568.9,1293.1 571.9,1281 577.9,1250.7 579.4,1245.4 580.9,1242.1 582.5,1240.9 584,1241.6 585.5,1243.5 593,1262.5 596,1267.4 597.5,1268.1 599,1267.3 600.5,1265.2 608.1,1244.1 611.1,1238.7 612.6,1237.9 614.1,1239.3 615.6,1243.4 617.1,1250 627.7,1321.7 629.2,1328.3 630.7,1332.4 632.2,1333.8 633.7,1332.6 635.2,1329.1 638.2,1315.8 650.3,1229.3 653.3,1216.1 654.8,1212.6 656.3,1211.4 657.8,1214.3 659.3,1222.6 662.3,1251.8 666.8,1304.2 668.3,1317.2 669.8,1325.5 671.4,1328.3 672.9,1327.1 674.4,1323.6 675.9,1317.9 678.9,1301.2 686.4,1250.5 689.4,1237.2 690.9,1233.7 692.4,1232.5 694,1233.4 695.5,1236.1 697,1240.5 707.5,1287.8 709,1292.2 710.5,1294.9 712,1295.8 713.5,1295.3 715,1293.9 721.1,1285 722.6,1283.6 724.1,1283.1 727.1,1284.5 734.6,1293.2 737.6,1294.6 739.2,1293.8 740.7,1291.5 743.7,1283.1 752.7,1248.2 754.2,1244.6 755.7,1242.3 757.2,1241.5 758.7,1242.8 760.2,1246.3 763.3,1259.3 770.8,1302.2 772.3,1307.9 773.8,1311.4 775.3,1312.7 776.8,1311.5 778.3,1307.9 779.8,1302.3 790.4,1240.7 791.9,1235.1 793.4,1231.6 794.9,1230.4 796.4,1231.6 797.9,1235 800.9,1247.9 808.5,1296.9 811.5,1313.1 813,1318.6 814.5,1322 816,1323.2 817.5,1322 819,1318.4 820.5,1312.7 823.5,1295.8 831.1,1244.7 834.1,1231.3 835.6,1227.7 837.1,1226.5 838.6,1227.1 840.1,1229 841.6,1232.1 844.6,1241 852.2,1268.1 855.2,1275.2 856.7,1277.1 858.2,1277.7 859.7,1277.2 861.2,1275.7 867.2,1264.8 870.2,1261 871.7,1260.5 873.2,1261 879.3,1267.6 880.8,1268.1 882.3,1267.6 885.3,1264.5 892.8,1251.1 895.9,1248 897.4,1247.6 898.9,1248.3 900.4,1250.6 901.9,1254.1 910.9,1285.6 912.4,1289.2 913.9,1291.4 915.4,1292.2 916.9,1291.2 918.5,1288.5 920,1284.2 923,1271.4 930.5,1232.7 933.5,1222.6 935,1219.9 936.5,1218.9 938,1220 939.5,1222.9 941.1,1227.8 944.1,1241.8 951.6,1284.5 954.6,1295.7 956.1,1298.7 957.6,1299.7 959.1,1298.8 960.6,1296 962.1,1291.5 971.2,1252.1 972.7,1247.7 974.2,1244.9 975.7,1244 977.2,1244.6 980.2,1249.6 989.3,1278.9 992.3,1286 993.8,1287.9 995.3,1288.6 996.8,1288.1 998.3,1286.9 1005.8,1274.7 1008.9,1271.5 1011.9,1271.2 1019.4,1273.1 1022.4,1273.5 1023.9,1273.1 1025.4,1272 1028.4,1268 1036,1254.7 1039,1251.9 1040.5,1251.5 1042,1252.3 1043.5,1254.7 1045,1258.5 1051,1280.3 1054.1,1288.9 1055.6,1291.3 1057.1,1292.2 1058.6,1291.5 1060.1,1289.4 1063.1,1281.4 1073.6,1238.1 1076.7,1230.2 1078.2,1228.1 1079.7,1227.4 1081.2,1228.5 1082.7,1231.7 1084.2,1236.9 1093.2,1282.7 1094.7,1287.8 1096.2,1291.1 1097.7,1292.2 1099.3,1291.5 1100.9,1289.5 1102.4,1286.2 1105.5,1276.5 1114.9,1239.9 1118,1232.2 1119.5,1230.2 1121.1,1229.5 1122.6,1230.4 1124.1,1233.1 1125.6,1237.3 1133.1,1266.9 1134.7,1271.1 1136.2,1273.8 1137.7,1274.7 1140.7,1274 1143.7,1272 1154.2,1262.1 1157.3,1260.7 1160.3,1260.3 1161.8,1259.6 1166.3,1255.2 1173.8,1245.1 1176.8,1242.5 1179.9,1241.5 1181.4,1242 1184.4,1245.8 1187.4,1252.7 1196.4,1278.8 1199.4,1284.2 1200.9,1285.7 1202.5,1286.1 1204,1285.3 1205.5,1282.7 1207,1278.7 1216,1242.9 1217.5,1238.9 1219,1236.4 1220.5,1235.5 1222,1236.3 1223.5,1238.6 1225.1,1242.2 1235.6,1281.9 1237.1,1285.5 1238.6,1287.8 1240.1,1288.6 1241.6,1288 1244.6,1283.7 1247.7,1275.9 1255.2,1252.3 1258.2,1246.2 1259.7,1244.5 1261.2,1244 1262.7,1244.6 1265.7,1249.2 1273.3,1270.6 1276.3,1277.1 1277.8,1278.9 1279.3,1279.5 1282.3,1278.5 1289.8,1272.1 1292.9,1271.1 1297.4,1272.2 1304.9,1276 1307.9,1276.5 1309.4,1275.7 1312.4,1269.7 1317,1257.7 1318.5,1255.3 1320,1254.5 1321.5,1254.9 1324.5,1258 1327.5,1263.7 1335,1280.9 1338.1,1285.4 1339.6,1286.6 1341.1,1287 1342.6,1286.6 1344.1,1285.2 1347.1,1279.9 1356.1,1254.7 1359.2,1248.1 1362.2,1244.4 1363.7,1244 1365.2,1244.7 1368.2,1250.6 1374.2,1271.2 1377.2,1279.5 1378.7,1281.7 1380.2,1282.5 1381.8,1282 1384.8,1278 1387.8,1270.8 1396.8,1243.3 1399.8,1237.5 1401.3,1236 1402.8,1235.5 1404.4,1236.4 1405.9,1239 1407.4,1243.1 1413.4,1266.7 1416.4,1276 1417.9,1278.6 1419.4,1279.5 1422.4,1278.9 1425.4,1277.4 1436,1269.3 1439,1268.2 1442,1267.9 1445,1266.3 1455.6,1254.6 1458.6,1252.3 1461.6,1251.5 1463.1,1251.8 1464.6,1252.9 1467.6,1257 1476.7,1276.3 1479.7,1281.5 1482.7,1284.3 1484.2,1284.6 1485.7,1284 1487.2,1282.3 1490.2,1275.7 1499.3,1248.3 1502.3,1243.7 1503.8,1243 1505.3,1243.6 1506.8,1245.4 1509.8,1251.9 1517.4,1276.8 1520.4,1284.9 1523.4,1289.5 1524.9,1290.1 1526.4,1289.4 1529.4,1284.5 1538.5,1257.9 1541.5,1253 1543,1252.4 1544.5,1252.7 1547.5,1255 1558,1270.8 1561.1,1273.2 1562.6,1273.5 1565.6,1272.8 1571.6,1269.4 1574.6,1268.2 1579.1,1268.3 1589.7,1270.4 1592.7,1270.1 1595.7,1267.7 1601.7,1259.2 1604.7,1255.8 1607.8,1254.5 1609.3,1254.9 1610.8,1256.3 1613.8,1261.1 1621.3,1276.9 1624.3,1280.3 1625.8,1280.7 1627.3,1280.3 1628.9,1279.1 1631.9,1274.6 1640.9,1253.1 1643.9,1247.5 1646.9,1244.4 1648.4,1244 1649.9,1244.6 1653,1249.6 1662,1276.9 1665,1281.9 1666.5,1282.5 1668,1282 1671,1277.8 1680.1,1255.3 1683.1,1251.1 1684.6,1250.6 1686.1,1250.9 1689.1,1253.1 1692.1,1257.1 1699.7,1269.2 1702.7,1272.3 1705.7,1273.5 1710.2,1272.9 1720.8,1269.1 1728.3,1267.8 1729.9,1267.1 1732.9,1264.6 1742.1,1254.1 1745.2,1252.3 1746.7,1252.1 1748.2,1252.5 1749.7,1253.6 1752.7,1257.8 1760.3,1273.9 1763.3,1279.2 1766.3,1282.1 1767.8,1282.5 1769.3,1282.1 1772.3,1278.7 1782.9,1255.9 1785.9,1252.5 1787.4,1252.1 1788.9,1252.5 1791.9,1255.8 1802.5,1277.9 1805.5,1281.2 1807,1281.6 1808.5,1281.2 1811.5,1278.3 1822,1258.4 1825.1,1255.5 1826.6,1255.1 1828.1,1255.4 1831.1,1257.7 1834.1,1261.8 1841.6,1274.2 1844.6,1277.4 1846.2,1278.3 1849.2,1278.6 1853.7,1277.9 1871.8,1271.8 1880.8,1270.8 1888.3,1269.2 1892.9,1268.7 1894.4,1268.9 1897.4,1270.9 1906.4,1281.5 1909.4,1283.5 1910.9,1283.7 1912.4,1283.3 1915.5,1279.9 1924.5,1261.4 1927.5,1258 1929,1257.5 1930.5,1257.9 1933.5,1260.5 1936.6,1265.2 1944.1,1279.5 1947.1,1283.3 1948.6,1284.3 1950.1,1284.6 1951.6,1284.2 1954.6,1280.7 1963.7,1261.5 1966.7,1258 1968.2,1257.5 1969.7,1257.8 1972.7,1259.7 1983.3,1272.5 1986.3,1274.4 1987.8,1274.7 1990.8,1273.4 1996.8,1266.3 1999.8,1263.9 2001.3,1263.5 2004.4,1264 2013.4,1267.6 2016.4,1268.1 2017.9,1267.8 2020.9,1266 2028.5,1259.1 2031.5,1258.1 2033,1258.4 2034.5,1259.3 2037.5,1262.5 2046.5,1276 2049.6,1278.3 2051.1,1278.6 2052.6,1278.3 2055.6,1276 2058.6,1271.8 2066.1,1259 2069.1,1255.7 2072.2,1254.5 2073.7,1254.9 2076.7,1258.3 2087.2,1280.8 2090.2,1284.2 2091.7,1284.6 2093.2,1284.3 2096.3,1281.6 2106.8,1263.6 2109.8,1260.9 2111.3,1260.5 2112.8,1260.8 2115.9,1263.1 2126.4,1278.2 2129.4,1280.4 2130.9,1280.7 2136.9,1279.5 2147.5,1274.8 2153.5,1274 2156.5,1273.1 2168.6,1265.3 2171.6,1264 2174.6,1263.5 2176.1,1263.8 2179.1,1266.1 2185.2,1274.2 2188.2,1277.4 2191.2,1278.6 2192.7,1278.3 2194.2,1277.4 2197.2,1274.1 2204.7,1261.3 2207.8,1257.1 2210.8,1254.8 2212.3,1254.5 2213.8,1254.9 2216.8,1258.1 2227.3,1279.5 2230.4,1282.7 2231.9,1283.1 2234.9,1281.9 2237.9,1278.4 2248.4,1259.2 2251.5,1255.7 2253,1254.8 2256,1254.8 2259,1256.8 2268,1268.7 2271,1271.5 2272.5,1272.3 2275.7,1272.4 2283.8,1268.7 2287,1268.1" stroke="#f00"/>
<polyline points="501.1,1231.3 513.1,1229 514.7,1228.9 516.2,1230 519.2,1237.7 523.7,1253.3 525.2,1256.4 526.7,1257.5 528.2,1257 529.7,1255.5 532.7,1250.2 538.8,1236.8 541.8,1233 543.3,1232.5 544.8,1232.7 547.8,1234.3 550.8,1237.3 558.3,1246.2 561.4,1248.5 564.4,1249.4 567.4,1248.6 574.9,1242.7 577.9,1241.1 582.5,1241.3 593,1245.6 597.5,1246.4 600.5,1245.4 608.1,1238.9 611.1,1237.9 612.6,1238.3 614.1,1239.3 617.1,1243.1 624.6,1257.8 627.7,1262.6 630.7,1265.3 632.2,1265.6 633.7,1265.3 636.7,1262.5 645.7,1247.1 648.8,1244.3 650.3,1244 651.8,1244.4 654.8,1247.5 663.8,1264.5 666.8,1267.6 668.3,1268.1 669.8,1267.9 672.9,1266.6 683.4,1257.1 686.4,1255.2 689.4,1254.5 694,1255.4 703,1260.4 707.5,1261.9 712,1261.8 719.6,1260.6 722.6,1260.8 725.6,1262.7 733.1,1270.1 736.1,1271.1 737.6,1270.9 740.7,1269.4 751.2,1259.2 754.2,1257.7 755.7,1257.5 757.2,1257.8 760.2,1259.9 769.3,1271.1 772.3,1273.2 773.8,1273.5 775.3,1273.3 778.3,1271.7 788.9,1260.8 791.9,1259.2 793.4,1259 794.9,1259.3 797.9,1261.7 807,1274.5 810,1276.8 811.5,1277.1 814.5,1276.5 817.5,1274.9 828,1265.4 831.1,1263.3 834.1,1262.2 873.2,1262.6 877.8,1261.6 889.8,1256.1 895.9,1254.6 898.9,1254.7 900.4,1255.3 910.9,1264.2 912.4,1264.8 915.4,1264.9 920,1262.2 930.5,1250.5 933.5,1248.3 936.5,1247.6 939.5,1248.8 942.6,1252.2 948.6,1260.8 951.6,1263.2 953.1,1263.5 956.1,1263.1 959.1,1261.8 969.7,1255.5 974.2,1254.5 978.7,1255.6 987.8,1260.9 992.3,1262 1020.9,1261.9 1025.4,1260.5 1033,1256.9 1036,1256.1 1039,1256.1 1043.5,1258 1052.5,1263.9 1057.1,1265 1060.1,1264.4 1063.1,1262.8 1073.6,1254.3 1078.2,1253 1081.2,1253.6 1090.2,1259.2 1094.7,1260.5 1099.4,1259.6 1108.8,1254.6 1113.5,1253.1 1119.6,1253.2 1134.7,1255.2 1142.2,1255.3 1151.2,1254.2 1169.3,1250.7 1178.3,1250 1182.9,1250.9 1191.9,1255.6 1196.4,1256.6 1200.9,1255.8 1211.5,1250.7 1214.5,1249.7 1217.5,1249.4 1222,1250.3 1229.6,1253.9 1234.1,1255.3 1240.1,1255.1 1250.7,1253 1256.7,1252.4 1265.7,1252.8 1283.8,1255.2 1292.9,1256 1321.5,1255.2 1326,1256.2 1336.6,1260.5 1341.1,1261.1 1345.6,1260.2 1354.6,1256 1359.2,1255.1 1363.7,1256 1374.2,1260.7 1378.7,1261 1383.3,1259.9 1393.8,1255.2 1398.3,1254.5 1405.9,1254.9 1422.4,1257.5 1430,1258.1 1439,1257.8 1455.6,1256.2 1463.1,1256.1 1467.6,1256.8 1478.2,1259.8 1482.7,1260.2 1487.2,1259.8 1497.8,1256.8 1503.8,1256 1508.3,1256.5 1517.4,1259.1 1521.9,1259.6 1552,1259 1745.2,1259.6 1751.2,1260.4 1761.8,1263.4 1766.3,1263.8 1772.3,1263 1782.9,1260.1 1787.4,1259.6 1794.9,1259.9 1816,1261.9 1871.8,1263.5 1888.3,1263.5 1929,1262.3 1935,1263.1 1945.6,1266.1 1950.1,1266.6 2001.3,1263.8 2073.7,1263.9 2087.2,1266.5 2091.7,1266.9 2150.5,1265.7 2287,1266.6" stroke="#000"/>
</g>
<rect x="500.3" y="1050.4" width="1786.5" height="404" fill="none" stroke="#111" stroke-width="4"/>
<g class="tk" text-anchor="middle">
<text x="269.7" y="1771">0</text>
<text x="617.5" y="1771">50</text>
<text x="961.3" y="1771">100</text>
<text x="1307.1" y="1771">150</text>
<text x="1654.9" y="1771">200</text>
<text x="2000.7" y="1771">250</text>
<text x="2346.5" y="1771">300</text>
</g>
<g class="tk" text-anchor="end">
<text x="244.5" y="85.1">40</text>
<text x="244.5" y="286.2">30</text>
<text x="244.5" y="487.2">20</text>
<text x="244.5" y="688.2">10</text>
<text x="244.5" y="889.3">0</text>
<text x="244.5" y="1090.3">-10</text>
<text x="244.5" y="1291.4">-20</text>
<text x="244.5" y="1492.5">-30</text>
<text x="244.5" y="1693.5">-40</text>
</g>
<g class="ti" text-anchor="middle">
<text x="507.7" y="1549.3">50</text>
<text x="860.2" y="1549.3">100</text>
<text x="1214.8" y="1549.3">150</text>
<text x="1571.7" y="1549.3">200</text>
<text x="1926.4" y="1549.3">250</text>
<text x="2281" y="1549.3">300</text>
</g>
<g class="ti" text-anchor="end">
<text x="484" y="1065.4">1</text>
<text x="485.5" y="1274.4">0</text>
<text x="484" y="1486.9">-1</text>
</g>
<text class="sf" x="1172" y="1893.5" font-size="99" fill="#0b0b14">Time / s</text>
<g class="sf" transform="translate(96.6 958) rotate(-90)" fill="#0b0b14">
<text x="0" y="0" font-size="116" font-style="italic" transform="translate(-2 0) scale(1.235 1)">δ</text>
<text x="0" y="0" font-size="116" font-style="italic" transform="translate(66.5 0) scale(1.07 1)">L</text>
<text x="165" y="0" font-size="116">/</text>
<text x="244" y="34" font-size="122" stroke="#fff" stroke-width="1.2">°</text>
</g>
<rect x="1859" y="163.4" width="390.7" height="267.5" fill="#fff" stroke="#6a6a6a" stroke-width="2.4"/>
<g stroke-width="18.7">
<path d="M1882.5 212.8H2005.4" stroke="#0ff"/>
<path d="M1882.5 297.1H2005.4" stroke="#f00"/>
<path d="M1882.5 381H2005.4" stroke="#000"/>
</g>
<g class="sf" font-size="53" fill="#10101c">
<text x="2035" y="229.3">DW</text>
<text x="2035" y="314">IDW</text>
<text x="2035" y="399">IDW-PF</text>
</g>
</svg></body></html>
